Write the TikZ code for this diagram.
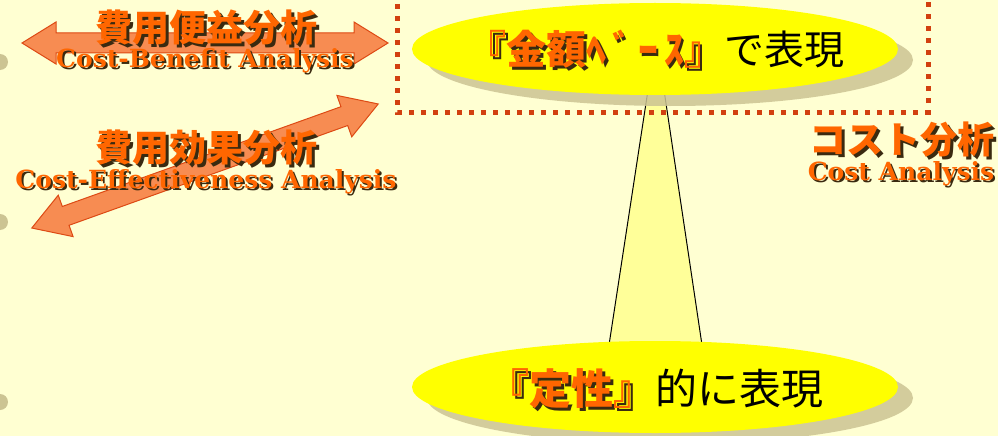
\documentclass[tikz,border=0pt]{standalone}
\usepackage{fontspec}
\newfontfamily\jp{Noto Sans CJK JP}
\newfontfamily\enf{DejaVu Serif}
\usetikzlibrary{shapes.geometric}
\definecolor{bg}{HTML}{FFFFD2}
\definecolor{org}{HTML}{FF6600}
\definecolor{arrfill}{HTML}{F78C52}
\definecolor{arrline}{HTML}{DD4A14}
\definecolor{dotc}{HTML}{D24010}
\definecolor{shad}{HTML}{CCC493}
\definecolor{yel}{HTML}{FFFF00}
\definecolor{funnelc}{HTML}{FFFF99}
\definecolor{tshad}{HTML}{3A2A10}
\newcommand{\shtxt}[2][3pt]{\rlap{\hspace*{#1}\raisebox{-#1}{\color{tshad}#2}}#2}
\begin{document}
\begin{tikzpicture}[x=1pt,y=-1pt,
  arr/.style={fill=arrfill,draw=arrline,line width=1pt,line join=miter},
  jpo/.style={inner sep=0,text=org,font=\jp\bfseries\fontsize{37}{40}\selectfont},
  eno/.style={inner sep=0,text=org,font=\enf\bfseries\fontsize{25}{28}\selectfont},
  ell/.style={ellipse,inner sep=0,minimum width=486pt,minimum height=92pt},
  dotline/.style={draw=dotc,line width=5pt,dash pattern=on 5pt off 7pt}
]
\useasboundingbox (0,0) rectangle (998,436);
\fill[bg] (0,0) rectangle (998,436);
\foreach \yy in {62,222,402} \fill[shad] (0,\yy) circle (8);

% double arrows
\draw[arr, shift={(205,43)}] (-183,0) -- (-149,-21) -- (-149,-10) -- (149,-10) -- (149,-21) -- (183,0) -- (149,21) -- (149,10) -- (-149,10) -- (-149,21) -- cycle;
\draw[arr, shift={(205,166)}, rotate=19.7] (-184,0) -- (-148,-22) -- (-148,-10) -- (148,-10) -- (148,-22) -- (184,0) -- (148,22) -- (148,10) -- (-148,10) -- (-148,22) -- cycle;

% funnel
\coordinate (ftl) at (648,90);
\coordinate (ftr) at (664,90);
\coordinate (fbl) at (609,345);
\coordinate (fbr) at (702,345);
\fill[funnelc] (ftl) -- (ftr) -- (fbr) -- (fbl) -- cycle;
\draw[line width=1pt] (ftl) -- (fbl);
\draw[line width=1pt] (ftr) -- (fbr);

% ellipses
\node[ell, fill=shad, opacity=0.85] (topsh) at (670,60) {};
\node[ell, fill=yel] (top) at (655,49) {};
\node[ell, fill=shad, opacity=0.85] (botsh) at (670,398) {};
\node[ell, fill=yel] (bot) at (655,387) {};

% dotted frame
\coordinate (d1) at (397,-8);
\coordinate (d2) at (397,112);
\coordinate (d3) at (928,112);
\coordinate (d4) at (928,-8);
\draw[dotline] (d1) -- (d2) -- (d3) -- (d4);

% left texts
\node[jpo] (t1) at (206,29) {\shtxt{費用便益分析}};
\node[eno] (e1) at (205,62) {\shtxt[2pt]{Cost-Benefit Analysis}};
\node[jpo] (t2) at (206,149) {\shtxt{費用効果分析}};
\node[eno] (e2) at (206,183) {\shtxt[2pt]{Cost-Effectiveness Analysis}};
\node[jpo] (t3) at (902,141) {\shtxt{コスト分析}};
\node[eno] (e3) at (901,175) {\shtxt[2pt]{Cost Analysis}};

% ellipse texts
\node[inner sep=0, font=\jp\fontsize{40}{44}\selectfont] (m1) at (655,51)
  {{\bfseries\color{org}\shtxt{『金額ﾍ\hspace{6pt}ﾞ\hspace{6pt}ｰ\hspace{6pt}ｽ』}}で表現};
\node[inner sep=0, font=\jp\fontsize{42}{46}\selectfont] (m2) at (655,390)
  {{\bfseries\color{org}\shtxt{『定性』}}的に表現};
\end{tikzpicture}
\end{document}
